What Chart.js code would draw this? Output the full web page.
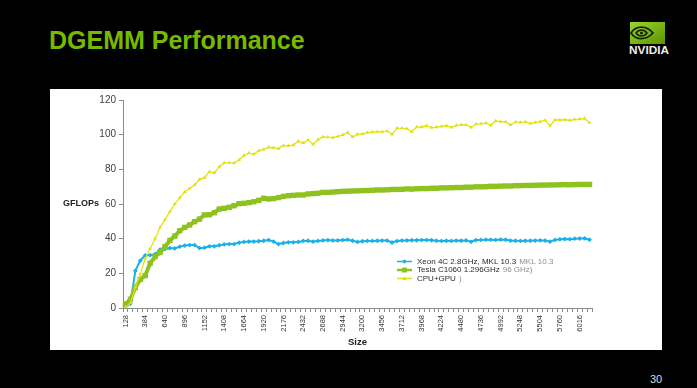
<!DOCTYPE html>
<html>
<head>
<meta charset="utf-8">
<script src="https://cdn.jsdelivr.net/npm/chart.js@4/dist/chart.umd.min.js"></script>
<style>
  html, body { margin: 0; padding: 0; background: #000; }
  #slide { position: relative; width: 697px; height: 388px; background: #000; overflow: hidden;
           font-family: "Liberation Sans", Arial, sans-serif; }
  #title { position: absolute; left: 49px; top: 25px; font-size: 25px; line-height: 30px;
           font-weight: bold; color: #76b900; white-space: nowrap; }
  #panel { position: absolute; left: 50px; top: 89px; width: 612px; height: 261px; background: #fff; }
  #page  { position: absolute; left: 650px; top: 373px; font-size: 11px; line-height: 12px; color: #dcdcdc; }
  #logo  { position: absolute; left: 626px; top: 19px; }
</style>
</head>
<body>
<div id="slide">
  <div id="title">DGEMM Performance</div>
  <svg id="logo" width="48" height="38" viewBox="0 0 48 38">
    <defs>
      <linearGradient id="lg" x1="0" y1="0" x2="1" y2="1">
        <stop offset="0" stop-color="#9ad62c"/>
        <stop offset="1" stop-color="#5c9400"/>
      </linearGradient>
    </defs>
    <rect x="4" y="3" width="35" height="22" fill="url(#lg)"/>
    <path d="M5 14 C10 6.5, 20 6, 27 14 C20 21.5, 10 21.5, 5 14 Z" fill="none" stroke="#15220a" stroke-width="1.8"/>
    <path d="M10 14 C13 10, 18 10, 21 14 C18 18, 13 18, 10 14 Z" fill="none" stroke="#15220a" stroke-width="1.5"/>
    <circle cx="15.5" cy="14" r="1.6" fill="#15220a"/>
    <text x="3" y="35" font-family="Liberation Sans, Arial, sans-serif" font-weight="bold" font-size="10"
          fill="#eeeeee" textLength="40" lengthAdjust="spacingAndGlyphs">NVIDIA</text>
  </svg>
  <div id="panel"><canvas id="c" width="612" height="261"></canvas></div>
  <div id="page">30</div>
</div>
<script>
// Matrix sizes (N) on the x axis
const sizes = [128, 192, 256, 320, 384, 448, 512, 576, 640, 704, 768, 832, 896, 960, 1024, 1088,
  1152, 1216, 1280, 1344, 1408, 1472, 1536, 1600, 1664, 1728, 1792, 1856, 1920, 1984, 2048, 2112,
  2176, 2240, 2304, 2368, 2432, 2496, 2560, 2624, 2688, 2752, 2816, 2880, 2944, 3008, 3072, 3136,
  3200, 3264, 3328, 3392, 3456, 3520, 3584, 3648, 3712, 3776, 3840, 3904, 3968, 4032, 4096, 4160,
  4224, 4288, 4352, 4416, 4480, 4544, 4608, 4672, 4736, 4800, 4864, 4928, 4992, 5056, 5120, 5184,
  5248, 5312, 5376, 5440, 5504, 5568, 5632, 5696, 5760, 5824, 5888, 5952, 6016, 6080, 6144];

// GFLOPs measured for each size
const xeon = [0.8, 2.5, 21.5, 27.3, 30.4, 30.5, 31.0, 33.7, 34.0, 34.6,
  34.4, 35.4, 36.0, 36.3, 36.3, 34.6, 34.8, 35.6, 35.6, 36.2,
  36.7, 36.9, 36.9, 37.7, 38.1, 38.3, 38.3, 38.5, 38.8, 39.2,
  38.3, 36.9, 37.5, 37.9, 37.9, 38.1, 38.7, 38.8, 38.3, 38.7,
  39.0, 39.2, 39.0, 39.0, 39.2, 39.4, 38.8, 38.1, 38.5, 38.7,
  38.7, 38.8, 38.9, 38.9, 37.8, 38.6, 38.9, 39.0, 39.1, 39.1,
  39.2, 39.2, 39.1, 38.8, 38.7, 38.8, 38.7, 38.9, 38.8, 39.0,
  38.2, 39.2, 39.3, 39.4, 39.4, 39.3, 39.5, 39.4, 38.9, 38.8,
  38.7, 38.8, 38.8, 38.9, 39.0, 38.9, 38.3, 39.3, 39.6, 39.8,
  39.7, 40.0, 40.1, 40.2, 39.4];

const tesla = [2.3, 5.0, 11.8, 16.5, 18.7, 25.8, 29.6, 32.0, 35.4, 39.0,
  41.5, 44.6, 46.5, 47.9, 49.8, 51.3, 53.7, 53.8, 55.0, 57.1,
  57.5, 58.1, 59.0, 60.2, 60.4, 60.8, 61.3, 62.1, 63.3, 62.9,
  63.1, 63.7, 64.4, 64.8, 65.0, 65.2, 65.2, 65.8, 66.0, 66.2,
  66.7, 66.7, 66.9, 67.1, 67.3, 67.4, 67.5, 67.6, 67.7, 67.8,
  67.9, 68.1, 68.1, 68.2, 68.4, 68.4, 68.5, 68.7, 68.6, 68.8,
  68.9, 68.9, 69.1, 69.1, 69.3, 69.3, 69.4, 69.5, 69.5, 69.7,
  69.7, 69.9, 69.9, 70.0, 70.2, 70.2, 70.3, 70.4, 70.4, 70.6,
  70.6, 70.7, 70.7, 70.8, 70.9, 70.9, 71.0, 71.0, 71.1, 71.2,
  71.1, 71.2, 71.3, 71.3, 71.3];

const hybrid = [0.5, 2.8, 12.0, 19.5, 28.5, 34.2, 40.0, 46.5, 51.0, 55.6,
  60.0, 63.7, 67.0, 69.0, 71.0, 74.2, 75.2, 78.6, 78.0, 81.5,
  83.8, 83.8, 83.5, 85.4, 88.0, 89.4, 88.7, 90.8, 91.5, 92.7,
  92.5, 92.0, 93.8, 93.6, 94.0, 96.2, 95.2, 97.0, 94.4, 97.1,
  98.7, 98.5, 98.3, 99.0, 99.8, 101.3, 98.7, 100.2, 100.4, 101.2,
  101.5, 101.7, 101.7, 102.1, 100.2, 103.7, 103.7, 103.5, 101.7, 104.4,
  104.4, 105.2, 104.0, 104.4, 104.8, 105.2, 104.2, 105.4, 105.6, 105.6,
  104.2, 106.0, 106.3, 106.7, 105.4, 107.9, 107.5, 107.5, 105.6, 107.3,
  107.1, 107.3, 106.5, 107.1, 107.5, 108.3, 105.2, 108.5, 108.5, 108.7,
  108.3, 108.8, 109.0, 109.4, 106.9];

const seriesNames = ['Xeon 4C 2.8GHz, MKL 10.3', 'Tesla C1060 1.296GHz', 'CPU+GPU'];
const legendTrail = ['MKL 10.3', '96 GHz)', ')'];
const yTicks = [0, 20, 40, 60, 80, 100, 120];

const FONT = '"Liberation Sans", Arial, sans-serif';
Chart.defaults.font.family = FONT;

// marker shapes used in the legend samples
function marker(ctx, style, x, y, r, color) {
  ctx.fillStyle = color;
  ctx.beginPath();
  if (style === 'rect') {
    const s = r / Math.SQRT2;
    ctx.rect(x - s, y - s, 2 * s, 2 * s);
  } else if (style === 'rectRot') {
    ctx.moveTo(x, y - r); ctx.lineTo(x + r, y); ctx.lineTo(x, y + r); ctx.lineTo(x - r, y); ctx.closePath();
  } else {
    ctx.moveTo(x, y - r); ctx.lineTo(x + r * 0.95, y + r * 0.6); ctx.lineTo(x - r * 0.95, y + r * 0.6); ctx.closePath();
  }
  ctx.fill();
}

// legend box drawn inside the plot area, bottom right
const insideLegend = {
  id: 'insideLegend',
  afterDraw(chart) {
    const { ctx, chartArea } = chart;
    const x0 = chartArea.left + 274;
    const rows = [161.5, 170, 178.5];
    ctx.save();
    ctx.font = '8px ' + FONT;
    ctx.textBaseline = 'middle';
    chart.data.datasets.forEach((ds, i) => {
      const y = chartArea.top + rows[i];
      ctx.strokeStyle = ds.borderColor;
      ctx.lineWidth = i === 1 ? 2.5 : 1.5;
      ctx.beginPath(); ctx.moveTo(x0, y); ctx.lineTo(x0 + 15, y); ctx.stroke();
      marker(ctx, ds.pointStyle, x0 + 7.5, y, i === 1 ? 3.5 : 2.3, ds.borderColor);
      ctx.fillStyle = '#2a2a2a';
      ctx.textAlign = 'left';
      const tx = x0 + 20;
      ctx.fillText(seriesNames[i], tx, y);
      const w = ctx.measureText(seriesNames[i]).width;
      ctx.fillStyle = '#8e8e8e';
      ctx.fillText(legendTrail[i], tx + w + 3, y);
    });
    ctx.restore();
  }
};

// horizontal y-axis caption at the left of the panel
const yCaption = {
  id: 'yCaption',
  afterDraw(chart) {
    const { ctx } = chart;
    const y = chart.scales.y.getPixelForValue(60);
    ctx.save();
    ctx.font = 'bold 9px ' + FONT;
    ctx.fillStyle = '#222';
    ctx.textAlign = 'left';
    ctx.textBaseline = 'middle';
    ctx.fillText('GFLOPs', 13, y);
    ctx.restore();
  }
};

new Chart(document.getElementById('c'), {
  type: 'line',
  data: {
    labels: sizes,
    datasets: [
      { label: seriesNames[0], data: xeon, borderColor: '#1ab0e8', backgroundColor: '#1ab0e8',
        pointBackgroundColor: '#1ab0e8', borderWidth: 2, pointStyle: 'rectRot', pointRadius: 2.4,
        pointBorderWidth: 0, order: 2 },
      { label: seriesNames[1], data: tesla, borderColor: '#8dc21f', backgroundColor: '#8dc21f',
        pointBackgroundColor: '#8dc21f', borderWidth: 4, pointStyle: 'rect', pointRadius: 3.8,
        pointBorderWidth: 0, order: 1 },
      { label: seriesNames[2], data: hybrid, borderColor: '#e2e20a', backgroundColor: '#e2e20a',
        pointBackgroundColor: '#e2e20a', borderWidth: 1.2, pointStyle: 'triangle', pointRadius: 2.2,
        pointBorderWidth: 0, order: 0 }
    ]
  },
  options: {
    responsive: false,
    animation: false,
    devicePixelRatio: 1,
    layout: { padding: { top: 11, right: 70, left: 0, bottom: 0 } },
    plugins: { legend: { display: false }, tooltip: { enabled: false } },
    scales: {
      x: {
        type: 'category',
        offset: true,
        grid: { display: true, drawOnChartArea: false, drawTicks: true, tickLength: 4, color: '#8c8c8c', offset: true },
        border: { display: true, color: '#8c8c8c', width: 1 },
        ticks: {
          autoSkip: false, minRotation: 90, maxRotation: 90, padding: 3, color: '#333',
          font: { size: 7.5 },
          callback(v, i) { return i % 4 === 0 ? this.getLabelForValue(v) : ''; }
        },
        title: { display: true, text: 'Size', color: '#222', font: { size: 9.5, weight: 'bold' },
                 padding: { top: 0, bottom: 2 } },
        afterFit(s) { s.height = 42; }
      },
      y: {
        min: 0, max: 120,
        afterBuildTicks(s) { s.ticks = yTicks.map(v => ({ value: v })); },
        ticks: { padding: 3, color: '#404040', font: { size: 10 } },
        grid: { drawOnChartArea: false, drawTicks: true, tickLength: 4, color: '#8c8c8c' },
        border: { display: true, color: '#8c8c8c', width: 1 },
        afterFit(s) { s.width = 73; }
      }
    }
  },
  plugins: [insideLegend, yCaption]
});
</script>
</body>
</html>
